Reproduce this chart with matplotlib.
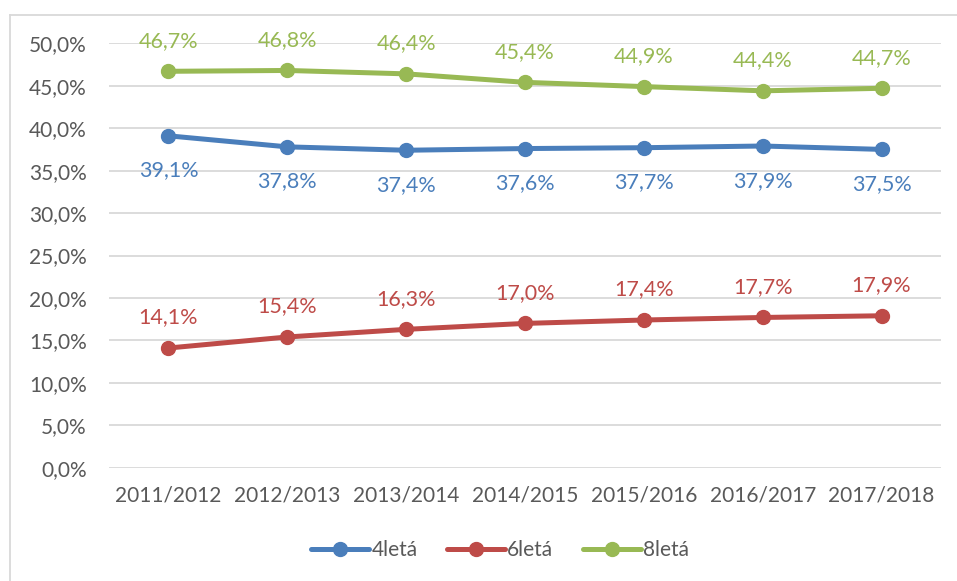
import matplotlib
matplotlib.use("Agg")
import matplotlib.pyplot as plt
from matplotlib.lines import Line2D

categories = ["2011/2012", "2012/2013", "2013/2014", "2014/2015", "2015/2016", "2016/2017", "2017/2018"]
series_names = ["4letá", "6letá", "8letá"]
s4 = [39.1, 37.8, 37.4, 37.6, 37.7, 37.9, 37.5]
s6 = [14.1, 15.4, 16.3, 17.0, 17.4, 17.7, 17.9]
s8 = [46.7, 46.8, 46.4, 45.4, 44.9, 44.4, 44.7]
yticks = [0, 5, 10, 15, 20, 25, 30, 35, 40, 45, 50]

colors = ["#4A7EBB", "#BE4B48", "#98B954"]
label_offsets = [-25, 22, 22]  # points; negative = below

plt.rcParams['font.family'] = ['Lato', 'DejaVu Sans']

W, H = 957, 581
fig = plt.figure(figsize=(W/100, H/100), dpi=100)
ax = fig.add_axes([109/W, 1-467.7/H, (941-109)/W, (467.7-43.3)/H])

x = list(range(len(categories)))
for vals, name, c, off in zip([s4, s6, s8], series_names, colors, label_offsets):
    ax.plot(x, vals, color=c, lw=3.6, marker='o', ms=10, solid_capstyle='round', zorder=3)
    for xi, v in zip(x, vals):
        ax.annotate(f"{v:.1f}%".replace('.', ','), (xi, v), xytext=(0, off),
                    textcoords='offset points', ha='center', va='center',
                    color=c, fontsize=15.5)

ax.set_xlim(-0.5, len(categories) - 0.5)
ax.set_ylim(0, 50)
ax.set_yticks(yticks)
ax.set_yticklabels([f"{t:.1f}%".replace('.', ',') for t in yticks])
ax.set_xticks(x)
ax.set_xticklabels(categories)
ax.tick_params(axis='both', length=0, colors='#595959', labelsize=15)
ax.tick_params(axis='y', pad=16)
ax.tick_params(axis='x', pad=13)
ax.grid(axis='y', color='#D9D9D9', lw=1.3)
ax.set_axisbelow(True)
for s in ax.spines.values():
    s.set_visible(False)

handles = [Line2D([0], [0], color=c, lw=3.6, marker='o', ms=10, solid_capstyle='round') for c in colors]
fig.legend(handles, series_names, loc='center', bbox_to_anchor=(500/W, 1-550/H), ncol=3,
           frameon=False, fontsize=15, labelcolor='#595959', handlelength=2.8,
           handletextpad=0.1, columnspacing=1.4)

# chart border (left and top visible)
fig.add_artist(Line2D([10/W, 10/W], [0, 1-15/H], color='#D9D9D9', lw=1.3, transform=fig.transFigure))
fig.add_artist(Line2D([10/W, 1], [1-15/H, 1-15/H], color='#D9D9D9', lw=1.3, transform=fig.transFigure))

fig.savefig("out.png", dpi=100)
